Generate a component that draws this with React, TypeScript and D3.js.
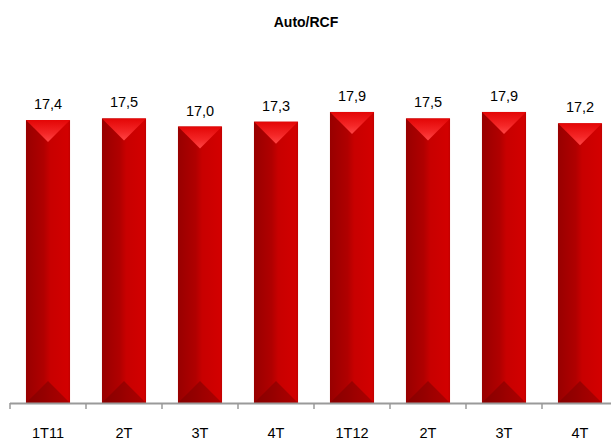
import React from "react";
import * as d3 from "d3";

const categories = ["1T11", "2T", "3T", "4T", "1T12", "2T", "3T", "4T"];
const values = [17.4, 17.5, 17.0, 17.3, 17.9, 17.5, 17.9, 17.2];
const title = "Auto/RCF";

const W = 611;
const H = 443;

export default function App() {
  const x = d3
    .scaleBand<number>()
    .domain(categories.map((_, i) => i))
    .range([10, 618])
    .paddingInner(0.42)
    .paddingOuter(0.21);
  const y = d3.scaleLinear().domain([0, 20]).range([403, 77.8]);
  const bw = x.bandwidth();
  const step = x.step();
  const fmt = (v: number) => v.toFixed(1).replace(".", ",");
  const ticks = d3.range(0, categories.length + 1).map((i) => 10 + i * step);

  return (
    <svg
      width={W}
      height={H}
      style={{ position: "absolute", left: 0, top: 0, fontFamily: "Arial, 'Liberation Sans', sans-serif" }}
    >
      <defs>
        <linearGradient id="body" x1="0" x2="1" y1="0" y2="0">
          <stop offset="0%" stopColor="#980000" />
          <stop offset="40%" stopColor="#b00000" />
          <stop offset="55%" stopColor="#c80000" />
          <stop offset="95%" stopColor="#d20000" />
          <stop offset="100%" stopColor="#c00000" />
        </linearGradient>
        <linearGradient id="topTri" x1="0" x2="0" y1="0" y2="1">
          <stop offset="0%" stopColor="#e30606" />
          <stop offset="60%" stopColor="#f42626" />
          <stop offset="100%" stopColor="#ff4545" />
        </linearGradient>
        <linearGradient id="botTri" x1="0" x2="1" y1="0" y2="0">
          <stop offset="0%" stopColor="#850000" />
          <stop offset="50%" stopColor="#930000" />
          <stop offset="100%" stopColor="#a80000" />
        </linearGradient>
      </defs>
      <rect width={W} height={H} fill="#fff" />
      <text x={306} y={27} textAnchor="middle" fontSize={14} fontWeight="bold" fill="#000">
        {title}
      </text>
      {values.map((v, i) => {
        const x0 = x(i)!;
        const y0 = y(v);
        const y1 = y(0);
        const tri = 22;
        const cx = x0 + bw / 2;
        return (
          <g key={i}>
            <rect x={x0} y={y0} width={bw} height={y1 - y0} fill="url(#body)" />
            <polygon
              points={`${x0},${y0} ${x0 + bw},${y0} ${cx},${y0 + tri}`}
              fill="url(#topTri)"
            />
            <polygon
              points={`${x0},${y1} ${x0 + bw},${y1} ${cx},${y1 - tri}`}
              fill="url(#botTri)"
              opacity={0.85}
            />
            <text x={cx} y={y0 - 11} textAnchor="middle" fontSize={14.5} fill="#000">
              {fmt(v)}
            </text>
            <text x={cx} y={438} textAnchor="middle" fontSize={14.5} fill="#000">
              {categories[i]}
            </text>
          </g>
        );
      })}
      <line x1={10} x2={W} y1={403.5} y2={403.5} stroke="#9a9a9a" strokeWidth={2} />
      {ticks.map((t, i) => (
        <line key={i} x1={t} x2={t} y1={403} y2={409} stroke="#9a9a9a" strokeWidth={1.5} />
      ))}
    </svg>
  );
}
